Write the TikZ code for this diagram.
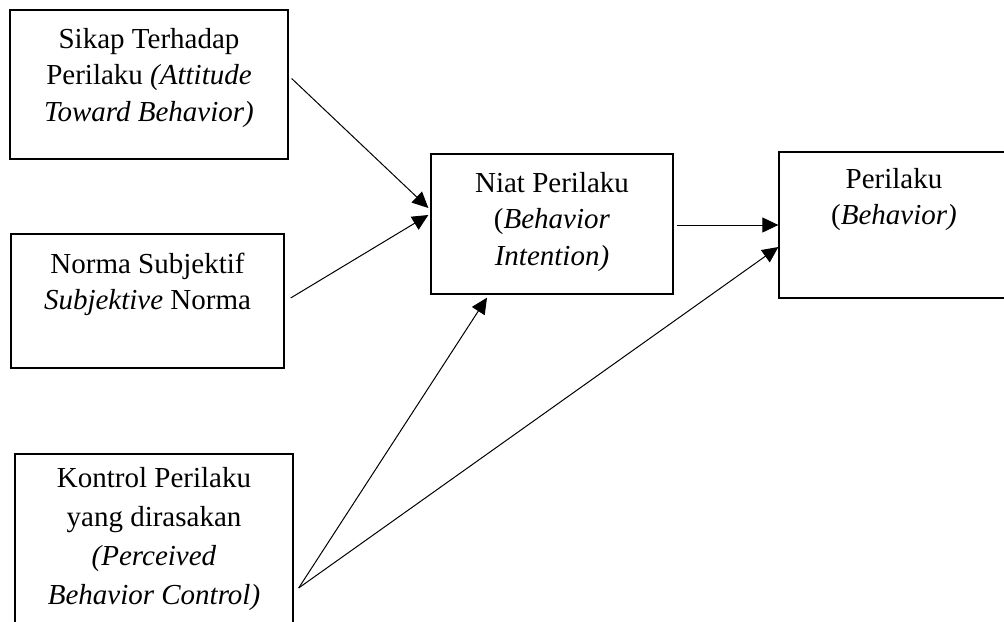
\documentclass[tikz,border=0pt]{standalone}
\usepackage{fontspec}
\setmainfont{Liberation Serif}
\usetikzlibrary{arrows.meta}
\usetikzlibrary{positioning}

\begin{document}
\begin{tikzpicture}[x=0.5pt,y=-0.5pt,
        box/.style={draw,rectangle,line width=0.65pt,inner sep=0pt},
        boxtext/.style={inner sep=0pt,align=center,font=\fontsize{14.5}{18.3}\selectfont},
        link/.style={line width=0.5pt,-{Triangle[length=8pt,width=7.5pt]}}]
        \clip (0,0) rectangle (1004,621);

        \node[box,minimum width=139pt,minimum height=74.5pt] (sikap) at (149,84.5) {};
        \node[box,minimum width=136.5pt,minimum height=67pt] (norma) at (147.5,301) {};
        \node[box,minimum width=139pt,minimum height=103pt] (kontrol) at (154,557) {};
        \node[box,minimum width=121pt,minimum height=70pt] (niat) at (552,224) {};
        \node[box,minimum width=115pt,minimum height=73pt] (perilaku) at (894,225) {};

        \node[boxtext,below=9.1pt of sikap.north] (sikapTxt)
            {Sikap Terhadap\\Perilaku \textit{(Attitude}\\\textit{Toward Behavior)}};
        \node[boxtext,below=9.6pt of norma.north] (normaTxt)
            {Norma Subjektif\\\textit{Subjektive} Norma};
        \node[boxtext,below=7pt of kontrol.north,font=\fontsize{14.5}{19.5}\selectfont] (kontrolTxt)
            {Kontrol Perilaku\\yang dirasakan\\\textit{(Perceived}\\\textit{Behavior Control)}};
        \node[boxtext,below=9.1pt of niat.north] (niatTxt)
            {Niat Perilaku\\(\textit{Behavior}\\\textit{Intention)}};
        \node[boxtext,below=8.1pt of perilaku.north] (perilakuTxt)
            {Perilaku\\(\textit{Behavior)}};

        \draw[link] ([shift={(3,-6)}]sikap.east) -- ([shift={(-2,-16)}]niat.west);
        \draw[link] ([shift={(6,-3)}]norma.east) -- ([shift={(-2,-9)}]niat.west);
        \draw[link] ([shift={(3,1)}]niat.east) -- ([shift={(0,0)}]perilaku.west);
        \draw[link] ([shift={(5,31)}]kontrol.east) -- ([shift={(-65,3)}]niat.south);
        \draw[link] ([shift={(5,31)}]kontrol.east) -- ([shift={(0,22)}]perilaku.west);
    \end{tikzpicture}
\end{document}
